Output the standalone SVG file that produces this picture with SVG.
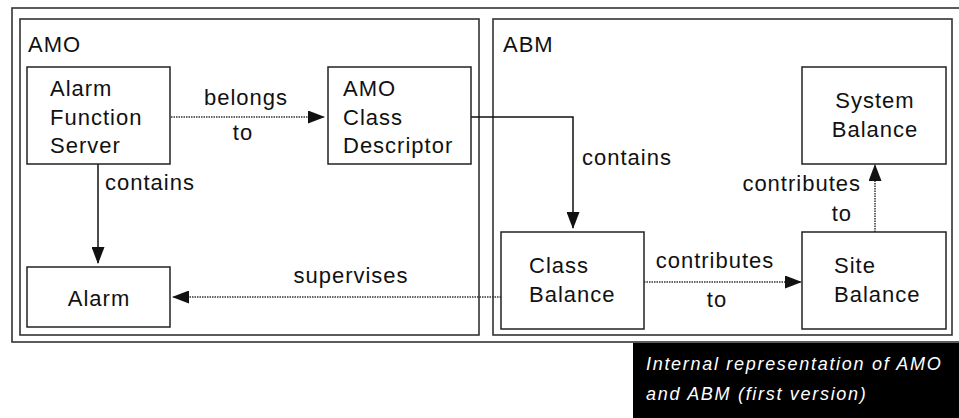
<svg xmlns="http://www.w3.org/2000/svg" width="959" height="418" viewBox="0 0 959 418">
<defs>
<style>
.frame{fill:none;stroke:#333;stroke-width:1.6}
.box{fill:#fff;stroke:#222;stroke-width:1.5}
.t{font-family:"Liberation Sans",Arial,sans-serif;font-size:22px;letter-spacing:1px;fill:#111}
.solid{fill:none;stroke:#111;stroke-width:1.5}
.dot{fill:none;stroke:#333;stroke-width:1.5;stroke-dasharray:1.5 1}
.cap{font-family:"Liberation Sans",Arial,sans-serif;font-size:18px;font-style:italic;fill:#fff;letter-spacing:1.7px}
</style>
<marker id="ah" markerUnits="userSpaceOnUse" markerWidth="17" markerHeight="13" refX="16" refY="6.5" orient="auto">
<path d="M0,0 L17,6.5 L0,13 z" fill="#111"/>
</marker>
</defs>
<rect width="959" height="418" fill="#fff"/>
<rect x="12" y="8" width="960" height="334" class="frame"/>
<g id="AMO">
<rect x="20" y="19" width="459" height="316" class="frame"/>
<text x="28" y="52" class="t">AMO</text>
</g>
<g id="ABM">
<rect x="493" y="19" width="459" height="316" class="frame"/>
<text x="503" y="52" class="t">ABM</text>
</g>
<g id="connectors">
<line x1="171" y1="117" x2="324" y2="117" class="dot" marker-end="url(#ah)"/>
<text x="246" y="105" class="t" text-anchor="middle">belongs</text>
<text x="243" y="140" class="t" text-anchor="middle">to</text>
<line x1="98" y1="164" x2="98" y2="263" class="solid" marker-end="url(#ah)"/>
<text x="105" y="190" class="t">contains</text>
<polyline points="471,117 573,117 573,228" class="solid" marker-end="url(#ah)"/>
<text x="582" y="165" class="t">contains</text>
<line x1="501" y1="297" x2="173" y2="297" class="dot" marker-end="url(#ah)"/>
<text x="351" y="283" class="t" text-anchor="middle">supervises</text>
<line x1="644" y1="282" x2="801" y2="282" class="dot" marker-end="url(#ah)"/>
<text x="715" y="268" class="t" text-anchor="middle">contributes</text>
<text x="717" y="307" class="t" text-anchor="middle">to</text>
<line x1="875" y1="232" x2="875" y2="165" class="dot" marker-end="url(#ah)"/>
<text x="861" y="191" class="t" text-anchor="end">contributes</text>
<text x="852" y="221" class="t" text-anchor="end">to</text>
</g>
<g id="alarm-function-server">
<rect x="27" y="67" width="143" height="97" class="box"/>
<text x="50" y="96" class="t">Alarm</text>
<text x="50" y="125" class="t">Function</text>
<text x="50" y="153" class="t">Server</text>
</g>
<g id="amo-class-descriptor">
<rect x="328" y="67" width="143" height="97" class="box"/>
<text x="343" y="96" class="t">AMO</text>
<text x="343" y="125" class="t">Class</text>
<text x="343" y="153" class="t">Descriptor</text>
</g>
<g id="alarm">
<rect x="27" y="267" width="143" height="60" class="box"/>
<text x="99" y="306" class="t" text-anchor="middle">Alarm</text>
</g>
<g id="system-balance">
<rect x="802" y="67" width="144" height="97" class="box"/>
<text x="875" y="108" class="t" text-anchor="middle">System</text>
<text x="875" y="137" class="t" text-anchor="middle">Balance</text>
</g>
<g id="class-balance">
<rect x="501" y="232" width="143" height="97" class="box"/>
<text x="529" y="273" class="t">Class</text>
<text x="529" y="302" class="t">Balance</text>
</g>
<g id="site-balance">
<rect x="802" y="232" width="144" height="97" class="box"/>
<text x="834" y="273" class="t">Site</text>
<text x="834" y="302" class="t">Balance</text>
</g>
<g id="caption">
<rect x="633" y="343" width="326" height="75" fill="#000"/>
<text x="646" y="370" class="cap">Internal representation of AMO</text>
<text x="646" y="400" class="cap">and ABM (first version)</text>
</g>
</svg>
